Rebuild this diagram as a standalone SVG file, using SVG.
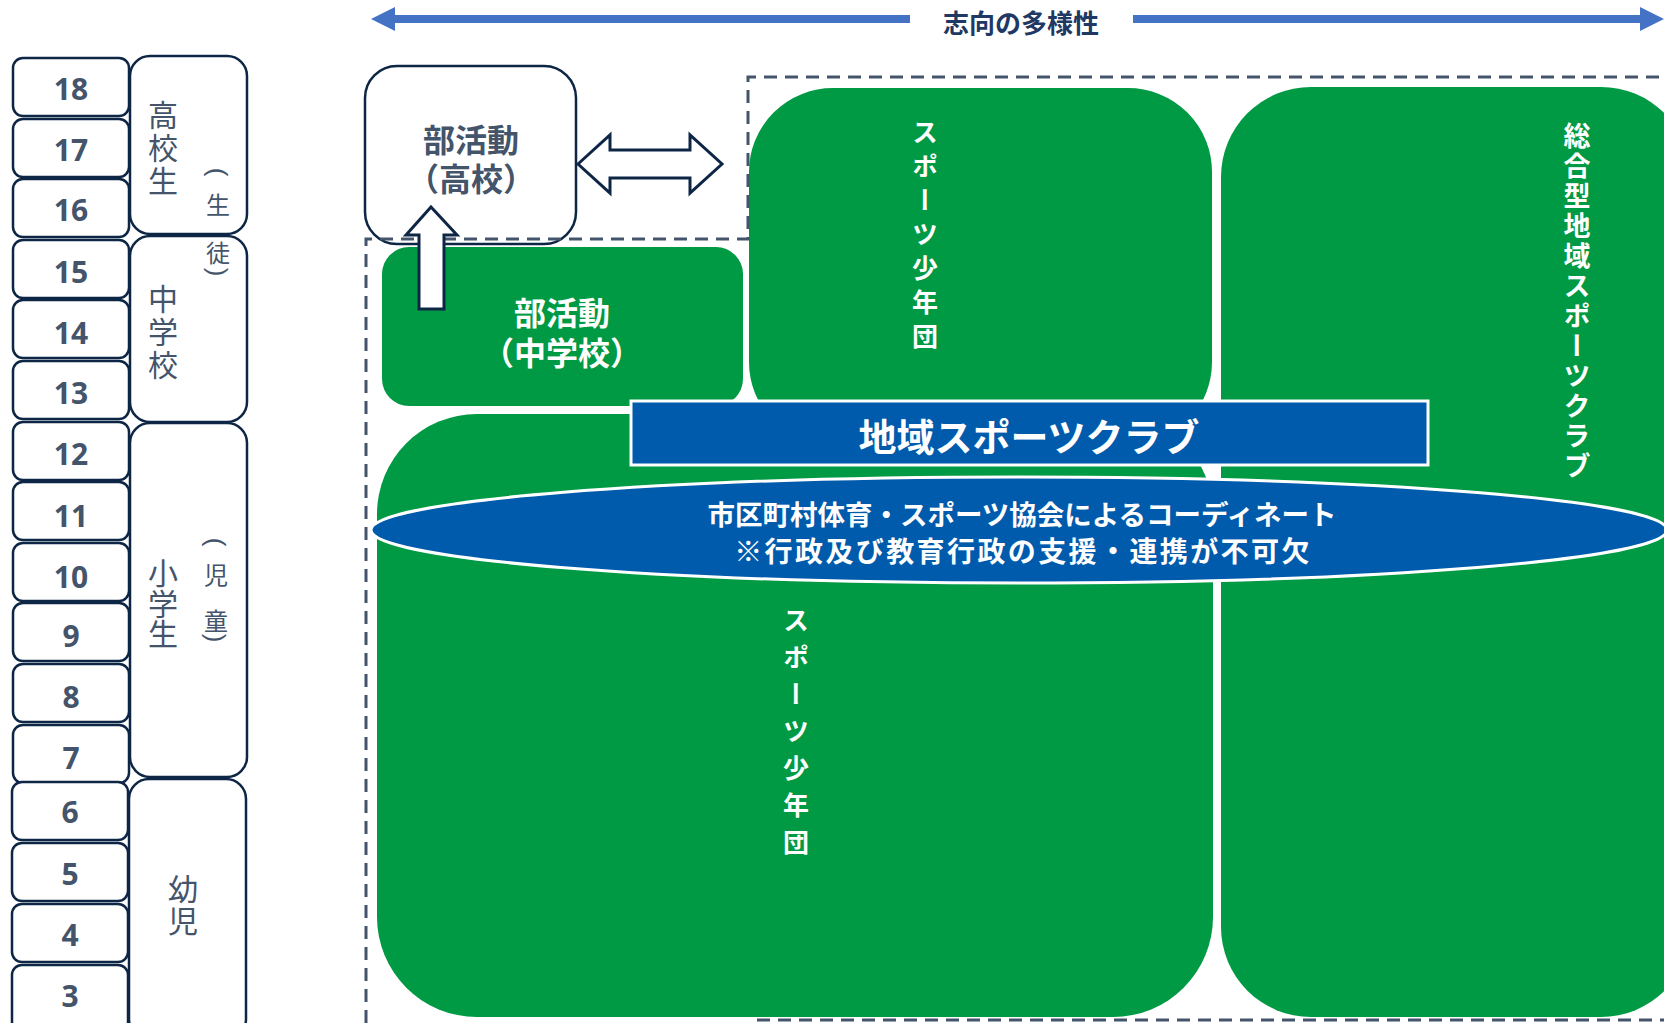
<svg xmlns="http://www.w3.org/2000/svg" width="1664" height="1023" viewBox="0 0 1664 1023">
<defs>
<style>
.age{fill:#fff;stroke:#0E2645;stroke-width:2.5}
.agetxt{font-family:"Noto Sans","Liberation Sans",sans-serif;font-weight:700;font-size:30px;fill:#44546A;text-anchor:middle;dominant-baseline:central}
.cat{fill:#fff;stroke:#0E2645;stroke-width:2.5}
.cattxt{font-family:"Noto Sans CJK JP",sans-serif;font-size:30px;fill:#44546A;writing-mode:vertical-rl}
.cattxt2{font-family:"Noto Sans CJK JP",sans-serif;font-size:24px;fill:#44546A;text-anchor:middle;dominant-baseline:central}
.paren{font-family:"Liberation Sans",sans-serif;font-size:26px;fill:#44546A;text-anchor:middle;dominant-baseline:central}
.green{fill:#009944}
.wt{font-family:"Noto Sans CJK JP",sans-serif;font-weight:700;fill:#fff;text-anchor:middle;dominant-baseline:central}
.vt{font-family:"Noto Sans CJK JP",sans-serif;font-weight:700;fill:#fff;writing-mode:vertical-rl}
.dash{fill:none;stroke:#44546A;stroke-width:3;stroke-dasharray:13 8}
.hollow{fill:#fff;stroke:#0E2645;stroke-width:3;stroke-linejoin:miter}
.bk{font-family:"Noto Sans CJK JP",sans-serif;font-weight:700;font-size:32px;text-anchor:middle;dominant-baseline:central}
</style>
</defs>
<rect width="1664" height="1023" fill="#fff"/>

<!-- top arrow -->
<g id="diversity-arrow">
<line x1="390" y1="19" x2="910" y2="19" stroke="#4472C4" stroke-width="8"/>
<polygon points="371,19 395,7 395,31" fill="#4472C4"/>
<line x1="1133" y1="19" x2="1645" y2="19" stroke="#4472C4" stroke-width="8"/>
<polygon points="1664,19 1640,7 1640,31" fill="#4472C4"/>
<text x="1021" y="21" font-family="Noto Sans CJK JP, sans-serif" font-weight="700" font-size="26" fill="#1F3864" text-anchor="middle" dominant-baseline="central">志向の多様性</text>
</g>

<!-- age boxes -->
<g id="ages">
<rect class="age" x="13" y="58" width="116" height="58" rx="10"/><text class="agetxt" x="71" y="88">18</text>
<rect class="age" x="13" y="119" width="116" height="58" rx="10"/><text class="agetxt" x="71" y="149">17</text>
<rect class="age" x="13" y="179" width="116" height="58" rx="10"/><text class="agetxt" x="71" y="209">16</text>
<rect class="age" x="13" y="240" width="116" height="58" rx="10"/><text class="agetxt" x="71" y="271">15</text>
<rect class="age" x="13" y="300" width="116" height="58" rx="10"/><text class="agetxt" x="71" y="332">14</text>
<rect class="age" x="13" y="361" width="116" height="58" rx="10"/><text class="agetxt" x="71" y="392">13</text>
<rect class="age" x="13" y="422" width="116" height="58" rx="10"/><text class="agetxt" x="71" y="453">12</text>
<rect class="age" x="13" y="482" width="116" height="58" rx="10"/><text class="agetxt" x="71" y="515">11</text>
<rect class="age" x="13" y="543" width="116" height="58" rx="10"/><text class="agetxt" x="71" y="576">10</text>
<rect class="age" x="13" y="603" width="116" height="58" rx="10"/><text class="agetxt" x="71" y="635">9</text>
<rect class="age" x="13" y="664" width="116" height="58" rx="10"/><text class="agetxt" x="71" y="696">8</text>
<rect class="age" x="13" y="725" width="116" height="58" rx="10"/><text class="agetxt" x="71" y="757">7</text>
<rect class="age" x="12" y="782" width="116" height="58" rx="10"/><text class="agetxt" x="70" y="811">6</text>
<rect class="age" x="12" y="843" width="116" height="58" rx="10"/><text class="agetxt" x="70" y="873">5</text>
<rect class="age" x="12" y="904" width="116" height="58" rx="10"/><text class="agetxt" x="70" y="934">4</text>
<rect class="age" x="12" y="965" width="116" height="70" rx="10"/><text class="agetxt" x="70" y="995">3</text>
</g>

<!-- categories -->
<g id="cat-high">
<rect class="cat" x="130" y="56" width="117" height="178" rx="20"/>
<text class="cattxt" x="163" y="100" letter-spacing="3">高校生</text>
</g>
<g id="cat-middle">
<rect class="cat" x="130" y="236" width="117" height="186" rx="20"/>
<text class="cattxt" x="163" y="284" letter-spacing="3">中学校</text>
</g>
<g id="seito">
<text class="paren" x="218" y="172" transform="rotate(90 218 172)">(</text>
<text class="cattxt2" x="218" y="203">生</text>
<text class="cattxt2" x="218" y="251">徒</text>
<text class="paren" x="218" y="272" transform="rotate(90 218 272)">)</text>
</g>
<g id="cat-elementary">
<rect class="cat" x="130" y="423" width="117" height="354" rx="20"/>
<text class="cattxt" x="163" y="558" letter-spacing="0.5">小学生</text>
<text class="paren" x="216" y="542" transform="rotate(90 216 542)">(</text>
<text class="cattxt2" x="216" y="573">児</text>
<text class="cattxt2" x="216" y="619">童</text>
<text class="paren" x="216" y="638" transform="rotate(90 216 638)">)</text>
</g>
<g id="cat-infant">
<rect class="cat" x="129" y="779" width="117" height="260" rx="20"/>
<text class="cattxt" x="183" y="874" letter-spacing="2">幼児</text>
</g>

<!-- green boxes -->
<g id="shonendan-lower">
<rect class="green" x="377" y="414" width="836" height="603" rx="100"/>
<text class="vt" x="796" y="607" font-size="26" letter-spacing="11">スポーツ少年団</text>
</g>
<g id="shonendan-upper">
<rect class="green" x="748" y="87" width="465" height="360" rx="85" stroke="#fff" stroke-width="2"/>
<text class="vt" x="925" y="119" font-size="26" letter-spacing="8">スポーツ少年団</text>
</g>
<g id="sogogata">
<rect class="green" x="1221" y="87" width="470" height="930" rx="90"/>
<text class="vt" x="1577" y="122" font-size="27" letter-spacing="3">総合型地域スポーツクラブ</text>
</g>
<g id="bukatsu-middle">
<rect class="green" x="382" y="247" width="361" height="159" rx="27"/>
<text class="bk" font-size="33" fill="#fff"><tspan x="562" y="311">部活動</tspan><tspan x="562" y="351">（中学校）</tspan></text>
</g>

<g id="bukatsu-high">
<rect x="365" y="66" width="211" height="178" rx="32" fill="#fff" stroke="#0E2645" stroke-width="2.5"/>
<text class="bk" fill="#44546A"><tspan x="471" y="138">部活動</tspan><tspan x="471" y="177">（高校）</tspan></text>
</g>

<!-- connectors -->
<g id="connectors">
<path class="dash" d="M366 1023 V239 H748 V77 H1664"/>
<path class="dash" d="M757 1020 H1664"/>
<polygon class="hollow" points="578,164 610,135 610,150 690,150 690,135 722,164 690,193 690,178 610,178 610,193"/>
<polygon class="hollow" points="431,207 457,235 444,235 444,309 419,309 419,235 406,235"/>
</g>

<g id="chiiki-banner">
<rect x="631" y="401" width="797" height="64" fill="#005BAC" stroke="#fff" stroke-width="3"/>
<text class="wt" x="1029" y="434" font-size="38" font-weight="900">地域スポーツクラブ</text>
</g>

<g id="coordinate-ellipse">
<ellipse cx="1019" cy="530" rx="648" ry="53" fill="#005BAC" stroke="#fff" stroke-width="3"/>
<text class="wt" font-size="27.5"><tspan x="1022" y="513">市区町村体育・スポーツ協会によるコーディネート</tspan><tspan x="1023" y="550" font-size="28" letter-spacing="2.4">※行政及び教育行政の支援・連携が不可欠</tspan></text>
</g>
</svg>
